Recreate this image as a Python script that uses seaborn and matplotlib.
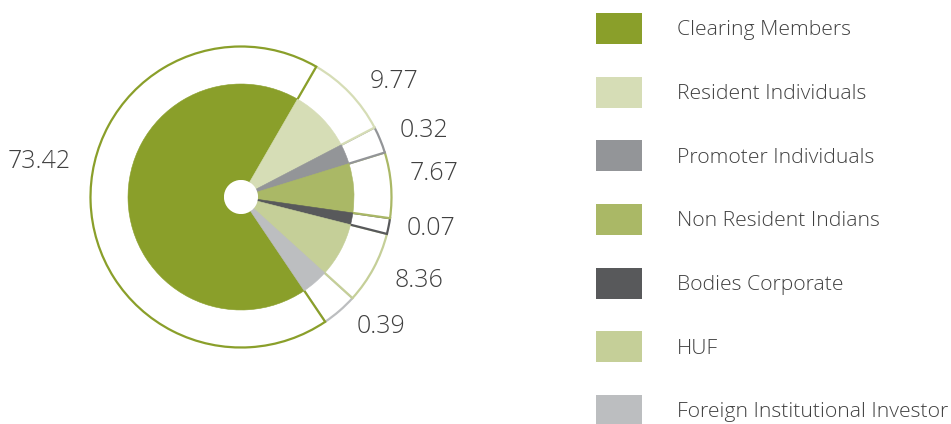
import matplotlib
matplotlib.use("Agg")
import matplotlib.pyplot as plt
from matplotlib.patches import Patch, Circle
import seaborn as sns

sns.set_theme(style="white")
plt.rcParams['font.family'] = ['Open Sans', 'DejaVu Sans']

# ---- data ----
categories = ["Clearing Members", "Resident Individuals", "Promoter Individuals",
              "Non Resident Indians", "Bodies Corporate", "HUF",
              "Foreign Institutional Investor"]
values = [73.42, 9.77, 0.32, 7.67, 0.07, 8.36, 0.39]
# wedge sizes as drawn in the picture (degrees)
drawn_span = [244.0, 32.5, 10.3, 25.3, 6.1, 28.0, 13.8]
value_labels = ["73.42", "9.77", "0.32", "7.67", "0.07", "8.36", "0.39"]
colors = ["#8a9f2a", "#d6ddb6", "#939598", "#aab866", "#58595b", "#c5cf98", "#bcbec0"]

# ---- layout (pixel coordinates, y up) ----
W, H = 951, 424
cx, cy = 241, H - 197
r_outer, r_inner, r_hole = 150.5, 113, 17
label_xy = [(39, 168), (394, 88), (424, 137), (434, 180), (431, 235), (419, 287), (381, 333)]
text_color = "#404040"

fig = plt.figure(figsize=(W / 100, H / 100), dpi=100)
ax = fig.add_axes([0, 0, 1, 1])

# outer outlined ring
outer, _ = ax.pie(drawn_span, radius=r_outer, center=(cx, cy), startangle=-56,
                  counterclock=False,
                  wedgeprops=dict(facecolor="white", linewidth=1.6))
n = len(outer)
for i, (w, c) in enumerate(zip(outer, colors)):
    w.set_edgecolor(c)
    w.set_facecolor("white")
    w.set_zorder(2 + (n - i) * 0.1 if i > 0 else 3.5)

# inner filled pie
inner, _ = ax.pie(drawn_span, radius=r_inner, center=(cx, cy), startangle=-56,
                  counterclock=False, colors=colors,
                  wedgeprops=dict(width=r_inner - r_hole, linewidth=0.4))
for w, c in zip(inner, colors):
    w.set_edgecolor(c)
    w.set_zorder(5)
ax.add_patch(Circle((cx, cy), r_hole, facecolor="white", edgecolor="none", zorder=6))

for (x, y), t in zip(label_xy, value_labels):
    ax.text(x, H - y, t, ha="center", va="baseline", fontsize=18,
            color=text_color, fontweight="light")

ax.set_xlim(0, W)
ax.set_ylim(0, H)
ax.set_aspect("equal")
ax.axis("off")

fs = 15.2
handles = [Patch(facecolor=c, edgecolor="none") for c in colors]
leg = fig.legend(handles, categories, loc="upper left",
                 bbox_to_anchor=(596 / W, 1 - 13 / H), frameon=False,
                 fontsize=fs, handlelength=2.18, handleheight=1.88,
                 handletextpad=1.66, labelspacing=1.55, borderpad=0,
                 borderaxespad=0)
for t in leg.get_texts():
    t.set_color(text_color)
    t.set_fontweight("light")

fig.savefig("out.png", dpi=100)
